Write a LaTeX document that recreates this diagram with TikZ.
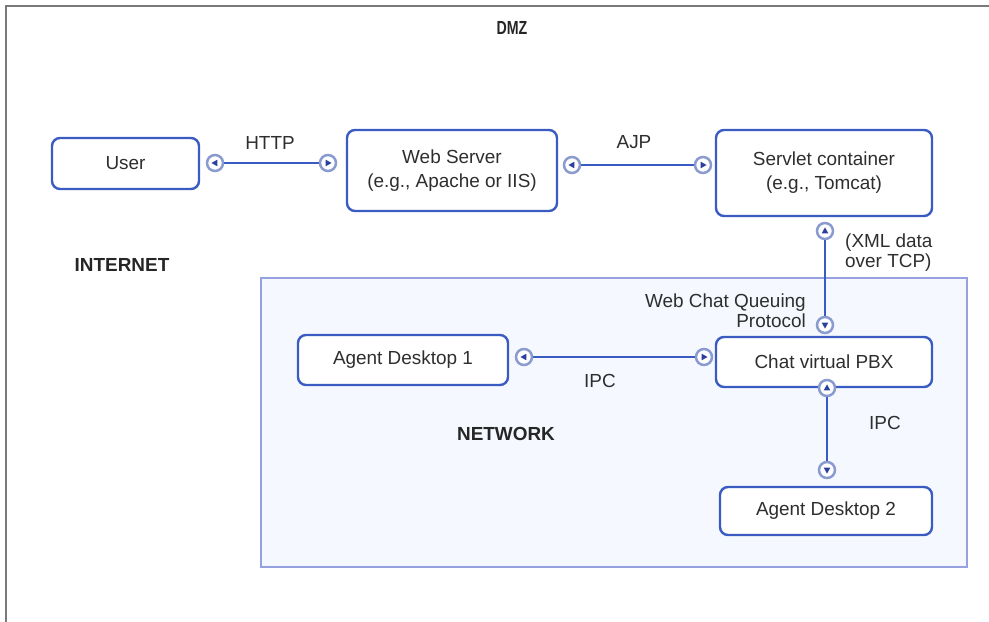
\documentclass[tikz,border=0pt]{standalone}
\usepackage{fontspec}
\setmainfont{Liberation Sans}
\usetikzlibrary{positioning}
\definecolor{boxblue}{HTML}{3A5CC2}
\definecolor{portring}{HTML}{8A9BD0}
\definecolor{tridark}{HTML}{2B3F9C}
\definecolor{netfill}{HTML}{F5F9FF}
\definecolor{netline}{HTML}{95A2DF}
\definecolor{txt}{HTML}{2E2E2E}
\definecolor{framegray}{HTML}{7A7A7A}
\tikzset{
  comp/.style={draw=boxblue, line width=2.4bp, rounded corners=8bp, fill=white,
    align=center, text=txt, font=\fontsize{19}{24}\selectfont, inner sep=0pt},
  port/.style={circle, draw=portring, line width=2.5bp, fill=white,
    minimum size=16bp, inner sep=0pt},
  link/.style={draw=boxblue, line width=2.4bp},
  lbl/.style={text=txt, font=\fontsize{19}{20}\selectfont, inner sep=0pt},
  zone/.style={text=black!85, font=\bfseries\fontsize{19}{20}\selectfont, inner sep=0pt},
}
% small arrowhead inside a port: #1 = port name, #2 = direction in degrees
\newcommand\porttip[2]{\fill[tridark, shift={(#1.center)}, rotate=#2] (3.6,0) -- (-2.4,3.3) -- (-2.4,-3.3) -- cycle;}
\begin{document}
\begin{tikzpicture}[x=1bp, y=-1bp]
\useasboundingbox (0,0) rectangle (989,622);

% outer frame
\draw[framegray, line width=2bp] (989,6) -- (6,6) -- (6,622);

% network area
\draw[netline, fill=netfill, line width=1.5bp] (261,278) rectangle (967,567);

% zone labels
\node[zone, xscale=0.75] (dmz) at (512,28) {DMZ};
\node[zone] (inet) at (122,265) {INTERNET};
\node[zone] (net) at (506,434) {NETWORK};

% components
\node[comp, minimum width=147bp, minimum height=51bp] (user) at (125.5,163.5) {User};
\node[comp, minimum width=210bp, minimum height=81bp] (web) at (452,170.5) {Web Server\\(e.g., Apache or IIS)};
\node[comp, minimum width=216bp, minimum height=86bp] (servlet) at (824,173) {Servlet container\\(e.g., Tomcat)};
\node[comp, minimum width=210bp, minimum height=50bp] (ad1) at (403,360) {Agent Desktop 1};
\node[comp, minimum width=216bp, minimum height=50bp] (pbx) at (824,362) {Chat virtual PBX};
\node[comp, minimum width=212bp, minimum height=48bp] (ad2) at (826,511) {Agent Desktop 2};

% ports
\node[port] (p1) at (215,163) {};
\node[port] (p2) at (328,163) {};
\node[port] (p3) at (572,165) {};
\node[port] (p4) at (703,165) {};
\node[port] (p5) at (825,231) {};
\node[port] (p6) at (825,325) {};
\node[port] (p7) at (524,357) {};
\node[port] (p8) at (704,357) {};
\node[port] (p9) at (827,388) {};
\node[port] (p10) at (827,470) {};

% connectors between ports
\draw[link] (p1) -- (p2);
\draw[link] (p3) -- (p4);
\draw[link] (p5) -- (p6);
\draw[link] (p7) -- (p8);
\draw[link] (p9) -- (p10);

\porttip{p1}{180}\porttip{p2}{0}
\porttip{p3}{180}\porttip{p4}{0}
\porttip{p5}{90}\porttip{p6}{-90}
\porttip{p7}{180}\porttip{p8}{0}
\porttip{p9}{90}\porttip{p10}{-90}

% connector labels
\node[lbl] (lhttp) at (270,143) {HTTP};
\node[lbl] (lajp) at (634,142) {AJP};
\node[lbl, anchor=west, align=left] (lxml) at (845,253) {(XML data\\over TCP)};
\node[lbl, anchor=east, align=right] (lwcq) at (806,311) {Web Chat Queuing\\Protocol};
\node[lbl] (lipc1) at (600,381) {IPC};
\node[lbl] (lipc2) at (885,423) {IPC};
\end{tikzpicture}
\end{document}
